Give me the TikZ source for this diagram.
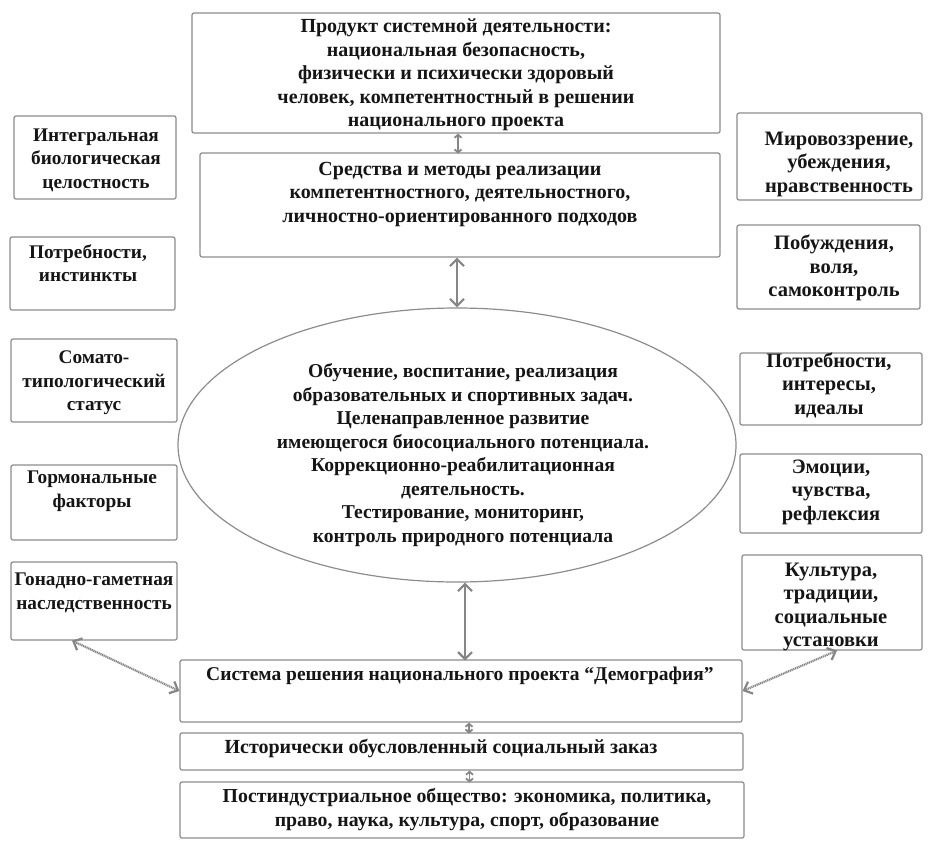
\documentclass[tikz,border=0pt]{standalone}
\usepackage{fontspec}
\setmainfont{Liberation Serif}
\usetikzlibrary{arrows.meta,shapes.geometric}
\definecolor{boxgray}{HTML}{8C8C8C}
\definecolor{linkgray}{HTML}{868686}
\definecolor{ink}{HTML}{151515}

\begin{document}
\begin{tikzpicture}[x=1pt,y=-1pt,
    box/.style={draw=boxgray,line width=1.2pt,rounded corners=2pt,inner sep=0pt},
    txt/.style={align=center,font=\bfseries\fontsize{#1}{23.5}\selectfont,text=ink,inner sep=0pt},
    txt/.default=20,
    link/.style={draw=linkgray,line width=2.2pt,{Straight Barb[length=7pt,width=14pt]}-{Straight Barb[length=7pt,width=14pt]}},
    shortlink/.style={draw=linkgray,line width=1.8pt,{Straight Barb[length=3pt,width=7pt]}-{Straight Barb[length=3pt,width=7pt]}},
    sidelink/.style={draw=linkgray,line width=2.2pt,dash pattern=on 1.2pt off 0.7pt,{Straight Barb[length=7pt,width=13pt]}-{Straight Barb[length=7pt,width=13pt]}}]
    \useasboundingbox (0,0) rectangle (934,846);
    %% centre column
    \node[box,minimum width=528,minimum height=120] (top) at (456,73) {};
    \node[txt] (top-t) at (456,75) {Продукт системной деятельности:\\национальная безопасность,\\физически и психически здоровый\\человек, компетентностный в решении\\национального проекта};
    \node[box,minimum width=520,minimum height=104] (means) at (460,205) {};
    \node[txt] (means-t) at (460,194.5) {Средства и методы реализации\\компетентностного, деятельностного,\\личностно-ориентированного подходов};
    \node[ellipse,draw=boxgray,line width=1.2pt,inner sep=0pt,minimum width=558,minimum height=274] (core) at (457,445) {};
    \node[txt=19.6] (core-t) at (463,455) {Обучение, воспитание, реализация\\образовательных и спортивных задач.\\Целенаправленное развитие\\имеющегося биосоциального потенциала.\\Коррекционно-реабилитационная\\деятельность.\\Тестирование, мониторинг,\\контроль природного потенциала};
    \node[box,minimum width=562,minimum height=62] (system) at (461,691) {};
    \node[txt=19.5] (system-t) at (460,676) {Система решения национального проекта “Демография”};
    \node[box,minimum width=563,minimum height=37] (order) at (461.5,751.5) {};
    \node[txt] (order-t) at (441,748) {Исторически обусловленный социальный заказ};
    \node[box,minimum width=564,minimum height=56] (society) at (462,810) {};
    \node[txt=19.8] (society-t) at (467,809.5) {Постиндустриальное общество: экономика, политика,\\право, наука, культура, спорт, образование};
    %% side columns
    \foreach \n/\x/\y/\w/\h/\tx/\ty/\fs/\lab in {
        l1/95/157.5/162/83/96/160/19.3/{Интегральная\\биологическая\\целостность},
        l2/92.5/273.5/165/73/88/263/19.3/{Потребности,\\инстинкты},
        l3/94/380.5/166/83/94/383/19.3/{Сомато-\\типологический\\статус},
        l4/94/502.5/166/75/92/491/19.3/{Гормональные\\факторы},
        l5/94/601/166/78/94/593/19.3/{Гонадно-гаметная\\наследственность},
        r1/829.5/156.5/185/87/839/164/20.5/{Мировоззрение,\\убеждения,\\нравственность},
        r2/828.5/267/183/84/834/268/20.5/{Побуждения,\\воля,\\самоконтроль},
        r3/831/389/182/72/829/385/20.5/{Потребности,\\интересы,\\идеалы},
        r4/831/493.5/182/79/831/492/20.5/{Эмоции,\\чувства,\\рефлексия},
        r5/832/602.5/180/95/831/607/20.5/{Культура,\\традиции,\\социальные\\установки}}
    {
        \node[box,minimum width=\w,minimum height=\h] (\n) at (\x,\y) {};
        \node[txt=\fs] (\n-t) at (\tx,\ty) {\lab};
    }
    %% links
    \draw[shortlink] (top.south) ++(2,0) -- ++(0,20);
    \draw[link] (core.north) -- (core.north |- means.south);
    \draw[link] (core.south) ++(8,0) -- ++(0,78);
    \draw[shortlink] (system.south) ++(8,0) -- ++(0,11);
    \draw[shortlink] (order.south) ++(8,0) -- ++(0,12);
    \draw[sidelink] (l5.south) ++(-22,0) -- (system.west);
    \draw[sidelink] (r5.south) ++(5,0) -- (system.east);
\end{tikzpicture}
\end{document}
